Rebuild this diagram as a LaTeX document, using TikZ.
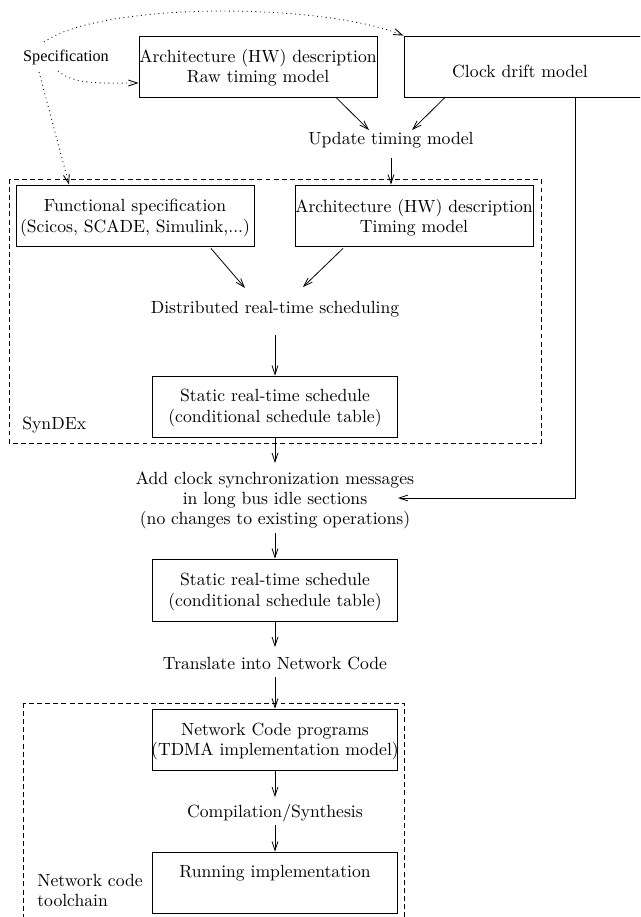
\documentclass[tikz,border=0pt]{standalone}
\usepackage{fontspec}
\newfontfamily\specfont{Liberation Serif}
\usetikzlibrary{arrows.meta,calc}
\begin{document}
\begin{tikzpicture}[x=0.567pt,y=-0.567pt,
  box/.style={draw,line width=0.5pt,inner sep=0pt},
  txt/.style={align=center,inner sep=0pt,font=\fontsize{10}{11.4}\selectfont},
  arr/.style={line width=0.45pt,-{Straight Barb[length=5pt,width=3.4pt]}},
  dotarr/.style={line width=0.5pt,dotted,-{Straight Barb[length=5pt,width=3.4pt]}},
  grp/.style={line width=0.5pt,dash pattern=on 2.8pt off 1.8pt}]
\useasboundingbox (0,0) rectangle (640,917);
\clip (0,0) rectangle (640,917);
% boxes
\node[box,minimum width=238*0.567pt,minimum height=61*0.567pt] (archraw) at (258,66.5) {};
\node[txt] at (258,68) {Architecture (HW) description\\Raw timing model};
\node[box,minimum width=276*0.567pt,minimum height=61*0.567pt] (clock) at (542,66.5) {};
\node[txt] at (520,71) {Clock drift model};
\node[box,minimum width=238*0.567pt,minimum height=61*0.567pt] (func) at (135,215.5) {};
\node[txt] at (135,218) {Functional specification\\(Scicos, SCADE, Simulink,...)};
\node[box,minimum width=238*0.567pt,minimum height=61*0.567pt] (archt) at (414,215.5) {};
\node[txt] at (414,218) {Architecture (HW) description\\Timing model};
\node[box,minimum width=245*0.567pt,minimum height=61*0.567pt] (sched1) at (275,406.5) {};
\node[txt] at (275,408) {Static real-time schedule\\(conditional schedule table)};
\node[box,minimum width=245*0.567pt,minimum height=62*0.567pt] (sched2) at (275,590) {};
\node[txt] at (275,592) {Static real-time schedule\\(conditional schedule table)};
\node[box,minimum width=245*0.567pt,minimum height=61*0.567pt] (ncprog) at (275,739.5) {};
\node[txt] at (275,741.5) {Network Code programs\\(TDMA implementation model)};
\node[box,minimum width=245*0.567pt,minimum height=61*0.567pt] (running) at (275,882.5) {};
\node[txt] at (275,873) {Running implementation};
% plain texts
\node[inner sep=0pt,font=\specfont\fontsize{9.2}{11}\selectfont] (spec) at (66,58) {Specification};
\node[txt] (update) at (391,140) {Update timing model};
\node[txt] (dist) at (275,309) {Distributed real-time scheduling};
\node[txt] (addclk) at (275,500) {Add clock synchronization messages\\in long bus idle sections\\(no changes to existing operations)};
\node[txt] (translate) at (275,663) {Translate into Network Code};
\node[txt] (compil) at (275,813) {Compilation/Synthesis};
\node[txt,anchor=west] (syndex) at (22,425) {SynDEx};
\node[txt,anchor=west,align=left] (nclabel) at (37,890.5) {Network code\\toolchain};
% group frames
\draw[grp] (9,179) rectangle (541,443);
\draw[grp] (23,703) rectangle (404,940);
% arrows
\draw[arr] ($(archraw.south)+(78,0)$) -- ($(update.center)+(-22,-10)$);
\draw[arr] ($(clock.south)+(-97,0)$) -- ($(update.center)+(21,-10)$);
\draw[arr] ($(update.center)+(0,18)$) -- ($(archt.north)+(-23,0)$);
\draw[arr] ($(func.south)+(76,2)$) -- ($(dist.center)+(-30,-21)$);
\draw[arr] ($(archt.south)+(-71,2)$) -- ($(dist.center)+(28,-22)$);
\draw[arr] ($(dist.center)+(0,26)$) -- (sched1.north);
\draw[arr] (sched1.south) -- ($(addclk.center)+(0,-37)$);
\draw[arr] ($(clock.south)+(33,0)$) |- ($(addclk.center)+(123,-2)$);
\draw[arr] ($(addclk.center)+(0,33)$) -- (sched2.north);
\draw[arr] (sched2.south) -- ($(translate.center)+(0,-16)$);
\draw[arr] ($(translate.center)+(0,14)$) -- (ncprog.north);
\draw[arr] (ncprog.south) -- ($(compil.center)+(0,-16)$);
\draw[arr] ($(compil.center)+(0,12)$) -- (running.north);
% dotted specification arrows
\draw[dotarr] ($(spec.center)+(-22,-16)$) .. controls (100,2) and (320,2) .. (clock.north west);
\draw[dotarr] ($(spec.center)+(-8,13)$) .. controls (75,85) and (100,83) .. ($(archraw.west)+(0,16.5)$);
\draw[dotarr] ($(spec.center)+(-27,14)$) -- ($(func.north)+(-66,0)$);
\end{tikzpicture}
\end{document}
